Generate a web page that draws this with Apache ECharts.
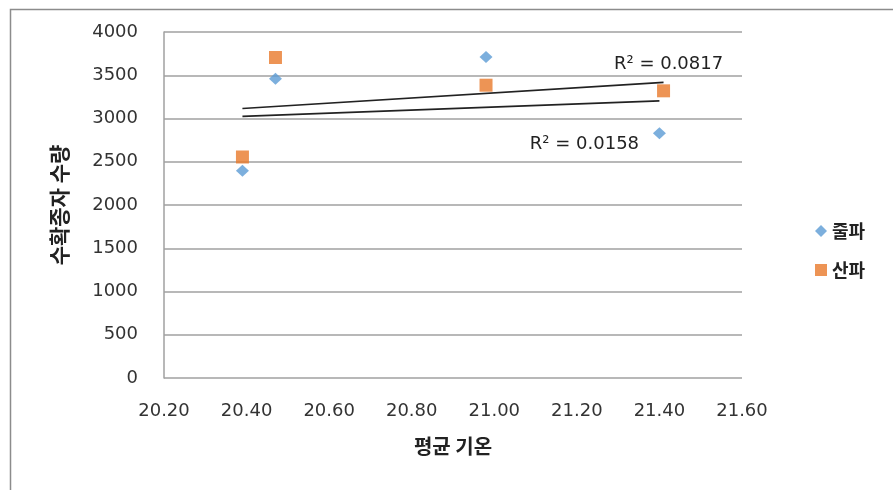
<!DOCTYPE html>
<html>
<head>
<meta charset="utf-8">
<script src="https://cdn.jsdelivr.net/npm/echarts@6/dist/echarts.min.js"></script>
<style>
  html, body { margin: 0; padding: 0; background: #fff; }
  #chart { width: 893px; height: 490px; }
</style>
</head>
<body>
<div id="chart"></div>
<script>
// Mean temperature (x) vs. harvested seed yield (y) for two seeding methods
const seriesNames = ['줄파', '산파'];
const tempJulpa = [20.39, 20.47, 20.98, 21.40];
const yieldJulpa = [2395, 3460, 3710, 2830];
const tempSanpa = [20.39, 20.47, 20.98, 21.41];
const yieldSanpa = [2555, 3705, 3385, 3320];
const r2Labels = ['R² = 0.0158', 'R² = 0.0817'];

const xTicks = { min: 20.2, max: 21.6, interval: 0.2 };
const yTicks = { min: 0, max: 4000, interval: 500 };

const font = 'DejaVu Sans, Verdana, sans-serif';
const krFont = '"Noto Sans CJK KR", sans-serif';

function pairs(xs, ys) { return xs.map((x, i) => [x, ys[i]]); }

// Least-squares linear trend line spanning the observed x range
function trend(xs, ys) {
  const n = xs.length;
  const mx = xs.reduce((a, b) => a + b, 0) / n;
  const my = ys.reduce((a, b) => a + b, 0) / n;
  let sxy = 0, sxx = 0;
  for (let i = 0; i < n; i++) { sxy += (xs[i] - mx) * (ys[i] - my); sxx += (xs[i] - mx) ** 2; }
  const b = sxy / sxx, a = my - b * mx;
  const x0 = Math.min(...xs), x1 = Math.max(...xs);
  return [[x0, a + b * x0], [x1, a + b * x1]];
}

const trendJulpa = trend(tempJulpa, yieldJulpa);
const trendSanpa = trend(tempSanpa, yieldSanpa);

function trendSeries(points, text, position, offset) {
  return {
    type: 'line', symbol: 'circle', symbolSize: 0, showSymbol: true, silent: true, z: 2,
    lineStyle: { color: '#222', width: 1.7 },
    itemStyle: { color: '#222' },
    data: [
      { value: points[0], label: { show: false } },
      { value: points[1], label: {
        show: true, formatter: text, position: position, offset: offset,
        fontFamily: font, fontSize: 18, color: '#222'
      } }
    ]
  };
}

const chart = echarts.init(document.getElementById('chart'));
chart.setOption({
  animation: false,
  backgroundColor: '#fff',
  graphic: [{
    type: 'rect', left: 8, top: 7,
    shape: { width: 900, height: 500 },
    style: { fill: 'none', stroke: '#8c8c8c', lineWidth: 1.5 }
  }],
  grid: { left: 164, top: 32, right: 151, bottom: 112 },
  legend: {
    orient: 'vertical', left: 810, top: 217, itemGap: 21,
    itemWidth: 12, itemHeight: 12,
    textStyle: { fontFamily: krFont, fontSize: 18, color: '#222', fontWeight: 'bold' },
    data: [
      { name: seriesNames[0], icon: 'diamond' },
      { name: seriesNames[1], icon: 'rect' }
    ]
  },
  xAxis: {
    type: 'value', min: xTicks.min, max: xTicks.max, interval: xTicks.interval,
    name: '평균 기온', nameLocation: 'middle', nameGap: 58,
    nameTextStyle: { fontFamily: krFont, fontSize: 20, fontWeight: 'bold', color: '#222' },
    axisLine: { show: false },
    axisTick: { show: false },
    splitLine: { show: false },
    axisLabel: { fontFamily: font, fontSize: 18, color: '#333', margin: 24, formatter: v => v.toFixed(2) }
  },
  yAxis: {
    type: 'value', min: yTicks.min, max: yTicks.max, interval: yTicks.interval,
    name: '수확종자 수량', nameLocation: 'middle', nameGap: 94,
    nameTextStyle: { fontFamily: krFont, fontSize: 21, fontWeight: 'bold', color: '#222' },
    axisLine: { show: true, lineStyle: { color: '#a0a0a0', width: 1.5 } },
    axisTick: { show: false },
    splitLine: { show: true, lineStyle: { color: '#a0a0a0', width: 1.5 } },
    axisLabel: { fontFamily: font, fontSize: 18, color: '#333', margin: 26, formatter: v => String(v) }
  },
  series: [
    {
      name: seriesNames[0], type: 'scatter', symbol: 'diamond', symbolSize: [13, 12],
      itemStyle: { color: '#5B9BD5' }, data: pairs(tempJulpa, yieldJulpa), z: 3
    },
    {
      name: seriesNames[1], type: 'scatter', symbol: 'rect', symbolSize: 13,
      itemStyle: { color: '#E8792B' }, data: pairs(tempSanpa, yieldSanpa), z: 3
    },
    trendSeries(trendJulpa, r2Labels[0], 'bottom', [-75, 29]),
    trendSeries(trendSanpa, r2Labels[1], 'top', [5, -4])
  ]
});
</script>
</body>
</html>
